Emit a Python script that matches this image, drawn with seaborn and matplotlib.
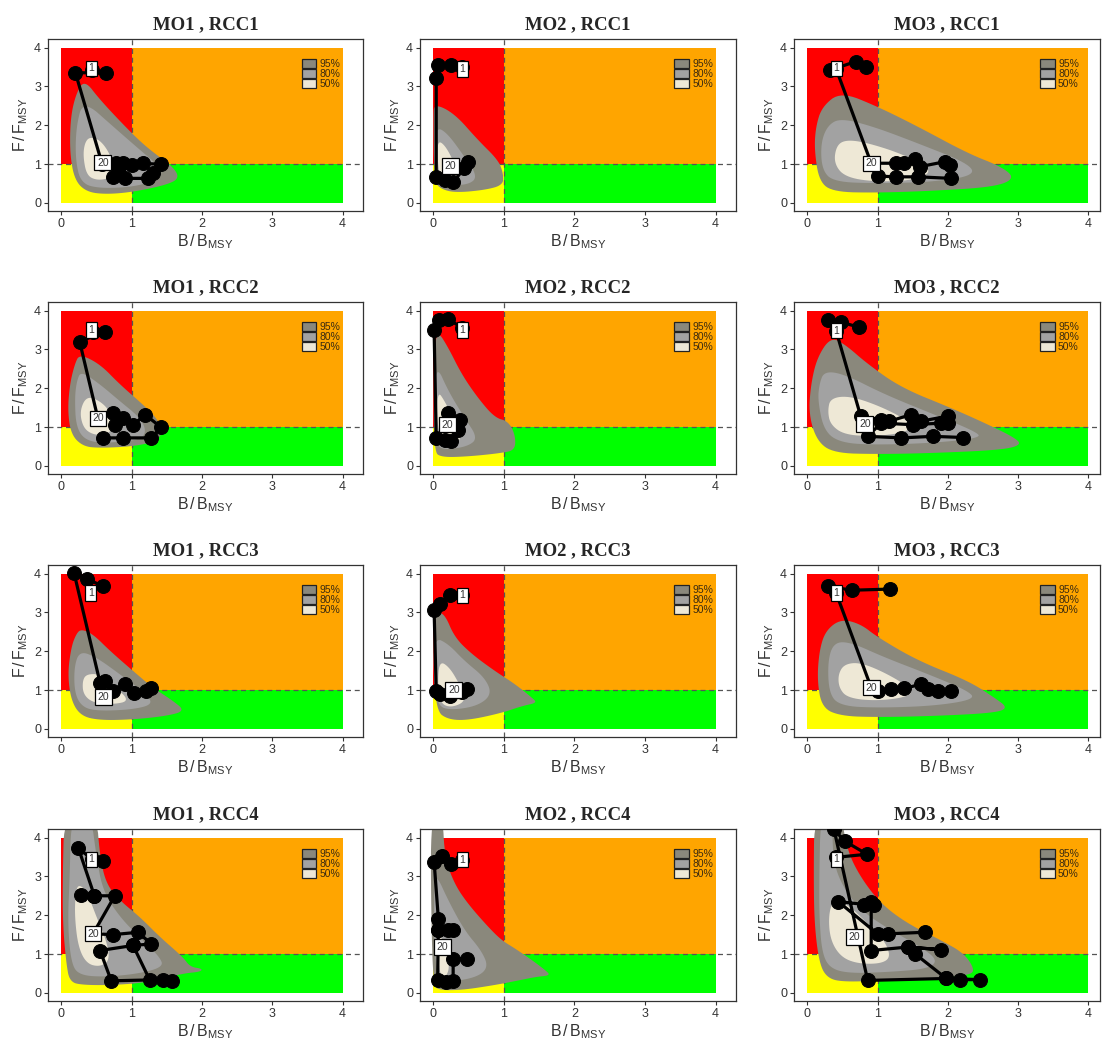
import numpy as np
import pandas as pd
import matplotlib
import matplotlib.pyplot as plt
import matplotlib.patches as mpatches
import seaborn as sns

sns.set_style('ticks')
plt.rcParams['font.family'] = ['Liberation Sans', 'DejaVu Sans']
plt.rcParams['mathtext.fontset'] = 'custom'
plt.rcParams['mathtext.rm'] = 'Liberation Sans'
plt.rcParams['mathtext.it'] = 'Liberation Sans:italic'

# trajectory (B/Bmsy, F/Fmsy), label positions ("1", "20") and 95/80/50% regions per panel
traj_mo1_rcc1 = [(0.43, 3.42), (0.63, 3.35), (0.20, 3.35), (0.58, 1.00), (0.78, 1.02), (0.88, 1.02), (1.00, 0.97),
                 (1.16, 1.02), (1.42, 0.99), (1.30, 0.76), (1.23, 0.63), (0.90, 0.63), (0.74, 0.67), (0.81, 0.84)]
lab_mo1_rcc1 = [(0.43, 3.47), (0.59, 1.03)]
c95_mo1_rcc1 = [(0.33, 3.17), (0.55, 2.65), (1.0, 1.79), (1.26, 1.36), (1.59, 0.93), (1.68, 0.63), (1.49, 0.46),
                (1.02, 0.28), (0.64, 0.22), (0.36, 0.28), (0.19, 0.58), (0.12, 1.27), (0.13, 2.2), (0.21, 2.82)]
c80_mo1_rcc1 = [(0.31, 2.65), (0.74, 1.96), (1.12, 1.36), (1.40, 0.93), (1.35, 0.58), (1.02, 0.41), (0.55, 0.37),
                (0.28, 0.5), (0.20, 1.1), (0.21, 1.96)]
c50_mo1_rcc1 = [(0.40, 1.7), (0.55, 1.62), (0.69, 1.27), (0.76, 0.84), (0.69, 0.63), (0.50, 0.58), (0.36, 0.71),
                (0.31, 1.19), (0.33, 1.53)]

traj_mo2_rcc1 = [(0.41, 3.50), (0.25, 3.55), (0.06, 3.55), (0.04, 3.21), (0.04, 0.67), (0.16, 0.58), (0.28, 0.54),
                 (0.44, 0.89), (0.49, 1.06)]
lab_mo2_rcc1 = [(0.41, 3.45), (0.24, 0.95)]
c95_mo2_rcc1 = [(0.01, 2.56), (0.30, 2.30), (0.63, 1.62), (0.92, 1.10), (0.99, 0.76), (0.99, 0.46), (0.73, 0.33),
                (0.30, 0.26), (0.09, 0.37), (0.01, 0.58), (0.0, 2.22)]
c80_mo2_rcc1 = [(0.04, 1.96), (0.20, 1.79), (0.44, 1.19), (0.63, 0.67), (0.49, 0.46), (0.16, 0.46), (0.04, 0.67),
                (0.01, 1.36)]
c50_mo2_rcc1 = [(0.06, 1.62), (0.18, 1.45), (0.32, 0.93), (0.37, 0.63), (0.23, 0.54), (0.09, 0.67), (0.06, 1.10)]

traj_mo3_rcc1 = [(0.84, 3.51), (0.69, 3.64), (0.33, 3.42), (0.41, 3.45), (0.91, 1.02), (1.26, 1.02), (1.38, 1.02),
                 (1.53, 1.14), (1.60, 0.93), (1.96, 1.06), (2.03, 0.97), (2.05, 0.63), (1.58, 0.67), (1.26, 0.67),
                 (1.00, 0.69)]
lab_mo3_rcc1 = [(0.41, 3.47), (0.91, 1.02)]
c95_mo3_rcc1 = [(0.48, 2.86), (1.0, 2.48), (1.58, 1.96), (2.29, 1.27), (2.77, 0.93), (2.96, 0.63), (2.67, 0.41),
                (1.81, 0.31), (1.0, 0.26), (0.38, 0.28), (0.17, 0.54), (0.10, 1.36), (0.12, 1.96), (0.21, 2.48)]
c80_mo3_rcc1 = [(0.48, 2.18), (0.95, 1.96), (1.58, 1.53), (2.29, 1.02), (2.39, 0.71), (1.81, 0.54), (1.0, 0.50),
                (0.38, 0.54), (0.21, 0.84), (0.19, 1.53), (0.29, 2.0)]
c50_mo3_rcc1 = [(0.53, 1.62), (0.81, 1.57), (1.34, 1.27), (1.81, 0.84), (1.53, 0.58), (0.95, 0.54), (0.53, 0.67),
                (0.38, 1.02), (0.41, 1.45)]

traj_mo1_rcc2 = [(0.45, 3.45), (0.62, 3.46), (0.26, 3.20), (0.52, 1.22), (0.74, 1.37), (0.76, 1.06), (0.88, 1.24),
                 (1.02, 1.05), (1.19, 1.32), (1.42, 0.99), (1.28, 0.72), (0.88, 0.72), (0.59, 0.72)]
lab_mo1_rcc2 = [(0.43, 3.50), (0.52, 1.22)]
c95_mo1_rcc2 = [(0.26, 2.88), (0.55, 2.62), (0.83, 2.10), (1.16, 1.58), (1.35, 1.24), (1.45, 0.89), (1.35, 0.63),
                (1.02, 0.50), (0.55, 0.46), (0.31, 0.50), (0.14, 0.80), (0.09, 1.41), (0.12, 2.10), (0.19, 2.62)]
c80_mo1_rcc2 = [(0.28, 2.44), (0.55, 2.10), (0.83, 1.67), (1.12, 1.24), (1.21, 0.89), (1.12, 0.67), (0.69, 0.59),
                (0.36, 0.63), (0.21, 0.98), (0.19, 1.75), (0.22, 2.19)]
c50_mo1_rcc2 = [(0.36, 1.80), (0.55, 1.67), (0.69, 1.41), (0.74, 0.98), (0.64, 0.80), (0.45, 0.80), (0.31, 0.98),
                (0.26, 1.41)]

traj_mo2_rcc2 = [(0.41, 3.55), (0.21, 3.78), (0.08, 3.76), (0.01, 3.50), (0.04, 0.72), (0.16, 0.67), (0.25, 0.63),
                 (0.35, 0.93), (0.37, 1.19), (0.21, 1.37)]
lab_mo2_rcc2 = [(0.41, 3.50), (0.20, 1.06)]
c95_mo2_rcc2 = [(0.06, 3.48), (0.21, 3.05), (0.40, 2.36), (0.63, 1.75), (0.87, 1.24), (1.06, 1.15), (1.16, 0.80),
                (1.16, 0.41), (0.97, 0.33), (0.49, 0.24), (0.11, 0.22), (0.01, 0.37), (0.0, 2.19), (0.01, 3.0)]
c80_mo2_rcc2 = [(0.04, 2.62), (0.21, 1.93), (0.44, 1.24), (0.63, 0.72), (0.49, 0.50), (0.16, 0.41), (0.04, 0.54),
                (0.0, 1.58)]
c50_mo2_rcc2 = [(0.06, 1.93), (0.16, 1.67), (0.30, 1.15), (0.40, 0.72), (0.30, 0.54), (0.11, 0.63), (0.05, 1.15)]

traj_mo3_rcc2 = [(0.74, 3.57), (0.48, 3.70), (0.30, 3.76), (0.41, 3.48), (0.76, 1.28), (1.05, 1.19), (1.17, 1.15),
                 (1.48, 1.32), (1.62, 1.15), (2.00, 1.28), (2.00, 1.10), (1.91, 1.10), (1.50, 1.06), (1.05, 1.10),
                 (0.86, 0.76), (1.34, 0.72), (1.79, 0.76), (2.22, 0.73)]
lab_mo3_rcc2 = [(0.41, 3.48), (0.82, 1.08)]
c95_mo3_rcc2 = [(0.33, 3.31), (0.53, 3.14), (0.86, 2.62), (1.34, 2.01), (2.05, 1.49), (2.58, 1.06), (2.96, 0.72),
                (3.05, 0.54), (2.77, 0.41), (1.81, 0.33), (1.0, 0.30), (0.38, 0.33), (0.14, 0.63), (0.02, 1.32),
                (0.05, 2.10), (0.14, 2.79)]
c80_mo3_rcc2 = [(0.24, 2.44), (0.53, 2.36), (1.10, 1.84), (1.81, 1.32), (2.39, 0.89), (2.48, 0.72), (1.81, 0.59),
                (1.0, 0.54), (0.48, 0.59), (0.24, 0.89), (0.15, 1.67), (0.17, 2.10)]
c50_mo3_rcc2 = [(0.33, 1.75), (0.62, 1.80), (1.10, 1.49), (1.53, 1.06), (1.38, 0.85), (0.95, 0.76), (0.53, 0.80),
                (0.33, 1.06), (0.29, 1.41)]

traj_mo1_rcc3 = [(0.59, 3.67), (0.36, 3.87), (0.18, 4.02), (0.55, 1.19), (0.62, 1.24), (0.74, 0.98), (0.90, 1.15),
                 (1.04, 0.93), (1.21, 0.98), (1.28, 1.06)]
lab_mo1_rcc3 = [(0.42, 3.50), (0.60, 0.82)]
c95_mo1_rcc3 = [(0.28, 2.57), (0.45, 2.44), (0.69, 2.01), (1.02, 1.49), (1.30, 1.06), (1.59, 0.72), (1.76, 0.46),
                (1.49, 0.33), (1.02, 0.24), (0.55, 0.22), (0.28, 0.33), (0.14, 0.72), (0.09, 1.41), (0.14, 2.10),
                (0.21, 2.44)]
c80_mo1_rcc3 = [(0.26, 2.01), (0.50, 1.84), (0.83, 1.41), (1.21, 0.89), (1.30, 0.63), (1.02, 0.50), (0.55, 0.46),
                (0.31, 0.54), (0.19, 0.89), (0.18, 1.58)]
c50_mo1_rcc3 = [(0.36, 1.41), (0.55, 1.41), (0.78, 1.06), (0.97, 0.72), (0.74, 0.63), (0.45, 0.67), (0.31, 0.89),
                (0.30, 1.24)]

traj_mo2_rcc3 = [(0.41, 3.44), (0.23, 3.44), (0.09, 3.22), (0.01, 3.05), (0.04, 0.98), (0.09, 0.89), (0.23, 0.85),
                 (0.40, 0.95), (0.48, 1.02)]
lab_mo2_rcc3 = [(0.41, 3.44), (0.29, 1.00)]
c95_mo2_rcc3 = [(0.04, 3.0), (0.16, 2.96), (0.30, 2.36), (0.54, 1.93), (0.87, 1.49), (1.16, 1.15), (1.40, 0.80),
                (1.47, 0.67), (1.26, 0.59), (0.97, 0.41), (0.49, 0.22), (0.21, 0.24), (0.04, 0.46), (0.0, 1.75),
                (0.0, 2.62)]
c80_mo2_rcc3 = [(0.01, 2.36), (0.21, 2.19), (0.44, 1.75), (0.73, 1.32), (0.83, 0.89), (0.63, 0.59), (0.25, 0.48),
                (0.06, 0.59), (0.0, 1.32)]
c50_mo2_rcc3 = [(0.09, 1.75), (0.23, 1.58), (0.37, 1.15), (0.47, 0.72), (0.25, 0.54), (0.09, 0.67), (0.06, 1.24)]

traj_mo3_rcc3 = [(1.18, 3.60), (0.64, 3.57), (0.29, 3.67), (0.41, 3.50), (0.91, 1.06), (1.00, 0.98), (1.19, 1.02),
                 (1.38, 1.04), (1.62, 1.15), (1.72, 1.02), (1.86, 0.98), (2.05, 0.98)]
lab_mo3_rcc3 = [(0.41, 3.50), (0.91, 1.06)]
c95_mo3_rcc3 = [(0.48, 2.83), (0.76, 2.70), (1.0, 2.36), (1.58, 1.75), (2.29, 1.24), (2.67, 0.80), (2.86, 0.54),
                (2.67, 0.41), (1.81, 0.33), (1.0, 0.30), (0.48, 0.33), (0.21, 0.54), (0.14, 1.24), (0.17, 2.01),
                (0.26, 2.53)]
c80_mo3_rcc3 = [(0.38, 2.23), (0.62, 2.23), (1.10, 1.84), (1.72, 1.41), (2.29, 0.98), (2.39, 0.76), (1.81, 0.59),
                (1.0, 0.54), (0.48, 0.59), (0.31, 0.89), (0.29, 1.75)]
c50_mo3_rcc3 = [(0.53, 1.67), (0.76, 1.71), (1.15, 1.41), (1.53, 0.98), (1.38, 0.80), (0.95, 0.72), (0.57, 0.80),
                (0.45, 1.06), (0.44, 1.41)]

traj_mo1_rcc4 = [(0.59, 3.40), (0.43, 3.44), (0.24, 3.74), (0.47, 2.50), (0.28, 2.53), (0.47, 2.50), (0.76, 2.50),
                 (0.45, 1.52), (0.74, 1.50), (1.09, 1.56), (1.28, 1.26), (1.02, 1.22), (1.26, 0.32), (1.57, 0.31),
                 (1.45, 0.34), (0.71, 0.31), (0.55, 1.09), (1.02, 1.22)]
lab_mo1_rcc4 = [(0.43, 3.44), (0.45, 1.52)]
c95_mo1_rcc4 = [(0.04, 4.6), (0.50, 4.6), (0.55, 3.49), (0.64, 2.80), (0.83, 2.38), (1.12, 1.95), (1.40, 1.44),
                (1.73, 0.92), (1.83, 0.67), (2.01, 0.62), (1.97, 0.54), (1.73, 0.50), (1.26, 0.28), (0.78, 0.20),
                (0.31, 0.20), (0.12, 0.28), (0.07, 0.75), (0.02, 1.78), (0.02, 3.06)]
c80_mo1_rcc4 = [(0.14, 4.6), (0.42, 4.6), (0.50, 3.49), (0.59, 2.63), (0.83, 1.95), (1.16, 1.35), (1.40, 0.92),
                (1.45, 0.67), (1.12, 0.50), (0.64, 0.41), (0.26, 0.45), (0.14, 0.75), (0.09, 1.78), (0.12, 3.06)]
c50_mo1_rcc4 = [(0.24, 2.80), (0.36, 2.63), (0.50, 1.95), (0.64, 1.35), (0.69, 0.84), (0.55, 0.67), (0.36, 0.75),
                (0.24, 1.18), (0.19, 1.95), (0.20, 2.55)]

traj_mo2_rcc4 = [(0.41, 3.43), (0.25, 3.33), (0.12, 3.53), (0.01, 3.38), (0.07, 1.91), (0.07, 1.62), (0.21, 1.61),
                 (0.28, 1.61), (0.07, 1.62), (0.06, 0.32), (0.18, 0.28), (0.28, 0.31), (0.28, 0.88), (0.48, 0.88)]
lab_mo2_rcc4 = [(0.41, 3.43), (0.13, 1.18)]
c95_mo2_rcc4 = [(-0.04, 4.6), (0.13, 4.6), (0.16, 3.49), (0.30, 2.80), (0.49, 2.29), (0.78, 1.69), (0.97, 1.35),
                (1.16, 1.14), (1.40, 0.84), (1.59, 0.58), (1.66, 0.45), (1.45, 0.41), (1.21, 0.32), (0.87, 0.20),
                (0.40, 0.07), (0.06, 0.07), (0.0, 0.24), (-0.03, 1.78)]
c80_mo2_rcc4 = [(0.04, 3.06), (0.21, 2.38), (0.44, 1.61), (0.68, 1.09), (0.78, 0.67), (0.63, 0.41), (0.25, 0.28),
                (0.06, 0.28), (0.01, 1.35), (0.01, 2.63)]
c50_mo2_rcc4 = [(0.09, 1.52), (0.18, 1.18), (0.23, 0.67), (0.18, 0.41), (0.09, 0.45), (0.07, 1.09)]

traj_mo3_rcc4 = [(0.41, 3.49), (0.85, 3.57), (0.53, 3.91), (0.38, 4.21), (0.86, 0.32), (1.98, 0.37), (2.17, 0.34),
                 (2.46, 0.34), (1.98, 0.37), (1.53, 1.01), (1.43, 1.18), (1.91, 1.11), (1.43, 1.18), (0.91, 1.09),
                 (0.91, 2.33), (0.81, 2.25), (0.95, 2.25), (0.44, 2.35), (1.00, 1.52), (1.15, 1.52), (1.67, 1.56)]
lab_mo3_rcc4 = [(0.41, 3.44), (0.67, 1.44)]
c95_mo3_rcc4 = [(0.10, 4.6), (0.48, 4.6), (0.57, 3.66), (0.76, 2.97), (1.05, 2.29), (1.43, 1.78), (1.91, 1.35),
                (2.24, 1.01), (2.39, 0.58), (2.29, 0.45), (1.81, 0.37), (1.10, 0.32), (0.53, 0.28), (0.29, 0.37),
                (0.17, 0.75), (0.10, 1.78), (0.09, 3.06)]
c80_mo3_rcc4 = [(0.19, 4.6), (0.36, 4.6), (0.36, 3.49), (0.48, 2.80), (0.76, 2.12), (1.19, 1.61), (1.62, 1.18),
                (1.86, 0.84), (1.72, 0.62), (1.19, 0.54), (0.62, 0.50), (0.33, 0.62), (0.21, 1.01), (0.17, 1.95),
                (0.17, 3.06)]
c50_mo3_rcc4 = [(0.36, 2.38), (0.57, 2.29), (0.86, 1.78), (1.10, 1.35), (1.19, 0.92), (1.05, 0.75), (0.72, 0.75),
                (0.48, 0.92), (0.33, 1.35), (0.30, 1.95)]

models = ['MO1', 'MO2', 'MO3']
rccs = ['RCC1', 'RCC2', 'RCC3', 'RCC4']
region_labels = ['95%', '80%', '50%']
region_colors = ['#8A887C', '#A2A2A2', '#EEE8D6']

panel_data = {
    ('MO1', 'RCC1'): (traj_mo1_rcc1, lab_mo1_rcc1, c95_mo1_rcc1, c80_mo1_rcc1, c50_mo1_rcc1),
    ('MO2', 'RCC1'): (traj_mo2_rcc1, lab_mo2_rcc1, c95_mo2_rcc1, c80_mo2_rcc1, c50_mo2_rcc1),
    ('MO3', 'RCC1'): (traj_mo3_rcc1, lab_mo3_rcc1, c95_mo3_rcc1, c80_mo3_rcc1, c50_mo3_rcc1),
    ('MO1', 'RCC2'): (traj_mo1_rcc2, lab_mo1_rcc2, c95_mo1_rcc2, c80_mo1_rcc2, c50_mo1_rcc2),
    ('MO2', 'RCC2'): (traj_mo2_rcc2, lab_mo2_rcc2, c95_mo2_rcc2, c80_mo2_rcc2, c50_mo2_rcc2),
    ('MO3', 'RCC2'): (traj_mo3_rcc2, lab_mo3_rcc2, c95_mo3_rcc2, c80_mo3_rcc2, c50_mo3_rcc2),
    ('MO1', 'RCC3'): (traj_mo1_rcc3, lab_mo1_rcc3, c95_mo1_rcc3, c80_mo1_rcc3, c50_mo1_rcc3),
    ('MO2', 'RCC3'): (traj_mo2_rcc3, lab_mo2_rcc3, c95_mo2_rcc3, c80_mo2_rcc3, c50_mo2_rcc3),
    ('MO3', 'RCC3'): (traj_mo3_rcc3, lab_mo3_rcc3, c95_mo3_rcc3, c80_mo3_rcc3, c50_mo3_rcc3),
    ('MO1', 'RCC4'): (traj_mo1_rcc4, lab_mo1_rcc4, c95_mo1_rcc4, c80_mo1_rcc4, c50_mo1_rcc4),
    ('MO2', 'RCC4'): (traj_mo2_rcc4, lab_mo2_rcc4, c95_mo2_rcc4, c80_mo2_rcc4, c50_mo2_rcc4),
    ('MO3', 'RCC4'): (traj_mo3_rcc4, lab_mo3_rcc4, c95_mo3_rcc4, c80_mo3_rcc4, c50_mo3_rcc4),
}

W, H = 1102, 1049
fig = plt.figure(figsize=(W / 100, H / 100), dpi=100)

col_left = [48, 420, 794]
col_width = [315, 316, 306]
col_xmax = [4.29, 4.29, 4.17]
row_top = [39, 302, 565, 829]
ax_h = 172


def rounded(poly, n_iter=3):
    # round off the corners of the outline (Chaikin corner cutting) for drawing
    pts = np.array(poly, dtype=float)
    for _ in range(n_iter):
        nxt = np.roll(pts, -1, axis=0)
        q = 0.75 * pts + 0.25 * nxt
        r = 0.25 * pts + 0.75 * nxt
        pts = np.empty((2 * len(q), 2))
        pts[0::2] = q
        pts[1::2] = r
    return pts


def kobe(ax, title, traj, labs, c95, c80, c50):
    # quadrants
    ax.fill_between([0, 1], 1, 4, color='#FF0000', lw=0, zorder=0)
    ax.fill_between([1, 4], 1, 4, color='#FFA500', lw=0, zorder=0)
    ax.fill_between([0, 1], 0, 1, color='#FFFF00', lw=0, zorder=0)
    ax.fill_between([1, 4], 0, 1, color='#00FF00', lw=0, zorder=0)
    ax.axhline(1, color='#555555', ls=(0, (4, 3)), lw=0.9, zorder=1)
    ax.axvline(1, color='#555555', ls=(0, (4, 3)), lw=0.9, zorder=1)

    # confidence regions
    for poly, col in zip([c95, c80, c50], region_colors):
        pts = rounded(poly)
        ax.fill(pts[:, 0], pts[:, 1], color=col, lw=0, zorder=2)

    # trajectory
    df = pd.DataFrame(traj, columns=['B', 'F'])
    sns.lineplot(data=df, x='B', y='F', sort=False, estimator=None, color='black', lw=2.3,
                 marker='o', markersize=10, markeredgecolor='black', ax=ax, zorder=5)
    for (bx, fy), txt in zip(labs, ['1', '20']):
        ax.text(bx, fy, txt, fontsize=7.5, ha='center', va='center', color='#333333', zorder=6,
                bbox=dict(boxstyle='square,pad=0.25', fc='white', ec='black', lw=0.9))

    handles = [mpatches.Patch(facecolor=c, edgecolor='#222222', lw=0.9) for c in region_colors]
    ax.legend(handles, region_labels, loc='upper left', bbox_to_anchor=(0.805, 0.885), frameon=False,
              fontsize=7.5, labelspacing=0.0, handlelength=1.4, handleheight=0.9, handletextpad=0.3,
              borderpad=0, borderaxespad=0, labelcolor='#3a2a10')

    ax.set_title(title, fontsize=13.5, fontweight='bold', family='Liberation Serif', pad=7)
    ax.set_xlabel(r'$\mathrm{B\,/\,B_{MSY}}$', fontsize=11.5, color='#333333', labelpad=2)
    ax.set_ylabel(r'$\mathrm{F\,/\,F_{MSY}}$', fontsize=11.5, color='#333333', labelpad=3)
    ax.set_xticks([0, 1, 2, 3, 4])
    ax.set_yticks([0, 1, 2, 3, 4])
    ax.tick_params(labelsize=9, length=3, color='#333333', labelcolor='#333333', pad=2)
    for s in ax.spines.values():
        s.set_visible(True)
        s.set_color('#333333')
        s.set_linewidth(0.9)


for i, rcc in enumerate(rccs):
    for j, mo in enumerate(models):
        ax = fig.add_axes([col_left[j] / W, 1 - (row_top[i] + ax_h) / H, col_width[j] / W, ax_h / H])
        ax.set_facecolor('white')
        traj, labs, c95, c80, c50 = panel_data[(mo, rcc)]
        kobe(ax, f'{mo} , {rcc}', traj, labs, c95, c80, c50)
        ax.set_xlim(-0.19, col_xmax[j])
        ax.set_ylim(-0.21, 4.22)

fig.savefig('out.png', dpi=100)
